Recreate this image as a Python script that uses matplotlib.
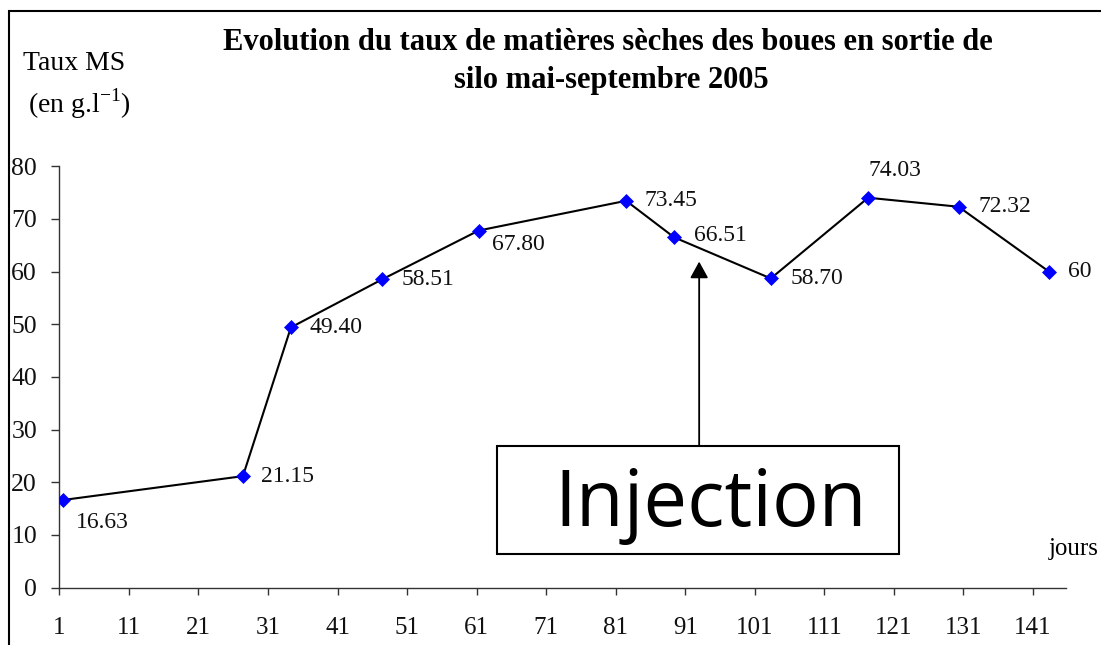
import matplotlib
matplotlib.use("Agg")
import matplotlib.pyplot as plt
from matplotlib.patches import Rectangle

# ---- data ----
days = [1.6, 27.4, 34.3, 47.4, 61.3, 82.5, 89.4, 103.3, 117.3, 130.3, 143.3]
taux_ms = [16.63, 21.15, 49.40, 58.51, 67.80, 73.45, 66.51, 58.70, 74.03, 72.32, 60]
point_labels = ["16.63", "21.15", "49.40", "58.51", "67.80", "73.45", "66.51",
                "58.70", "74.03", "72.32", "60"]
x_ticks = [1, 11, 21, 31, 41, 51, 61, 71, 81, 91, 101, 111, 121, 131, 141]
y_ticks = [0, 10, 20, 30, 40, 50, 60, 70, 80]

# label offsets in pixels (style)
label_offsets = [(12, -23), (18, 0), (19, 0), (20, 0), (13, -14), (18, 0),
                 (20, 2), (20, 0), (0, 27), (20, 0), (19, 0)]

W, H = 1101, 645
SERIF = "Liberation Serif"
fig = plt.figure(figsize=(W / 100, H / 100), dpi=100)
fig.patch.set_facecolor("white")

x0, x1 = 59.3, 1066.0
y0, y1 = 587.5, 166.3
ax = fig.add_axes([x0 / W, (H - y0) / H, (x1 - x0) / W, (y0 - y1) / H])
ax.set_xlim(1, 1 + (x1 - x0) / 6.955)
ax.set_ylim(0, 80)

ax.plot(days, taux_ms, color="black", lw=1.5, zorder=2)
ax.plot(days, taux_ms, ls="none", marker="D", ms=7.4, mfc="#0000FF",
        mec="#0000FF", mew=0.5, zorder=3)

for x, y, lab, (dx, dy) in zip(days, taux_ms, point_labels, label_offsets):
    ax.annotate(lab, (x, y), xytext=(dx, dy), textcoords="offset pixels",
                ha="left", va="center", fontsize=17, family=SERIF,
                color="#111111")

for s in ["top", "right"]:
    ax.spines[s].set_visible(False)
for s in ["left", "bottom"]:
    ax.spines[s].set_color("#333333")
    ax.spines[s].set_linewidth(1.0)

ax.set_xticks(x_ticks)
ax.set_xticklabels([str(t) for t in x_ticks])
ax.set_yticks(y_ticks)
ax.set_yticklabels([str(t) for t in y_ticks])
ax.tick_params(axis="x", direction="out", length=5, width=1, color="#333333",
               pad=16, labelsize=18)
ax.tick_params(axis="y", direction="out", length=6, width=1, color="#333333",
               pad=10, labelsize=18.5)
for lab in ax.get_xticklabels() + ax.get_yticklabels():
    lab.set_family(SERIF)
    lab.set_color("#111111")

# Injection annotation box and arrow
ax.annotate("", xy=(93.0, 61.9), xytext=(93.0, 26.95),
            arrowprops=dict(arrowstyle="-|>,head_length=1.0,head_width=0.55",
                            color="black", lw=1.3, shrinkA=0, shrinkB=0))
ax.add_patch(Rectangle((63.97, 6.37), 121.7 - 63.97, 26.95 - 6.37,
                       fill=True, facecolor="white", edgecolor="black",
                       lw=1.5, zorder=4))
ax.text(94.6, 15.6, "Injection", ha="center", va="center", fontsize=56,
        family="Open Sans", color="black", zorder=5)

# figure texts
def ftext(px, py, s, **kw):
    fig.text(px / W, 1 - py / H, s, **kw)

ftext(608, 50, "Evolution du taux de matières sèches des boues en sortie de",
      ha="center", va="baseline", fontsize=22, weight="bold", family=SERIF)
ftext(611, 88, "silo mai-septembre 2005",
      ha="center", va="baseline", fontsize=22, weight="bold", family=SERIF)
ftext(23, 70, "Taux MS", ha="left", va="baseline", fontsize=20, family=SERIF)
ftext(28, 113, r"(en g.l$^{\mathregular{-1}}$)", ha="left", va="baseline",
      fontsize=20, family=SERIF)
ftext(1049, 555, "jours", ha="left", va="baseline", fontsize=18, family=SERIF)

# outer chart-area frame (clipped by the image on the right and bottom)
fig.patches.append(Rectangle((9 / W, -0.2), 1.5, 1 - 10.5 / H + 0.2,
                             transform=fig.transFigure, fill=False,
                             edgecolor="black", lw=1.5))

fig.savefig("out.png", dpi=100)
